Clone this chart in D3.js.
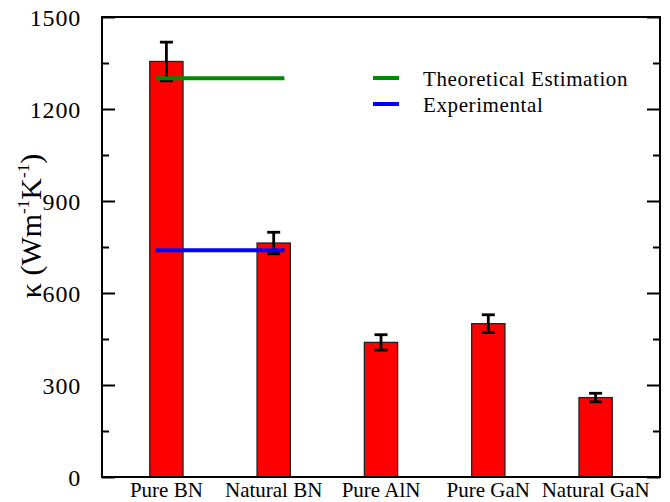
<!DOCTYPE html>
<html><head><meta charset="utf-8">
<script src="https://cdn.jsdelivr.net/npm/d3@7"></script>
</head><body style="margin:0;background:#fff"><svg id="c" width="670" height="502" style="display:block;background:#fff;font-family:'Times New Roman'"></svg>
<script>
const categories = ["Pure BN","Natural BN","Pure AlN","Pure GaN","Natural GaN"];
const values = [1355, 763, 439, 500, 259];
const errors = [63, 35, 25, 29, 14];
const refNames = ["Theoretical Estimation","Experimental"];
const refValues = [1300, 739];
const refColors = ["#008a00","#0000ff"];
const refSpan = [0.9, 2.1];
const yTicks = [0,300,600,900,1200,1500];
const yMinor = [150,450,750,1050,1350];

const FONT = '"Times New Roman"';
const svg = d3.select("#c");
const L=102, R=660, T=17, B=477;
const x = d3.scaleLinear().domain([0.4,5.6]).range([L,R]);
const y = d3.scaleLinear().domain([0,1500]).range([B,T]);
const bw = 0.31;

svg.selectAll("rect.bar").data(values).enter().append("rect")
  .attr("x",(d,i)=>x(i+1-bw/2)).attr("width",x(bw)-x(0))
  .attr("y",d=>y(d)).attr("height",d=>y(0)-y(d))
  .attr("fill","#ff0000").attr("stroke","#222").attr("stroke-width",1.3);

const eb = svg.append("g").attr("stroke","#000").attr("stroke-width",2.8);
values.forEach((v,i)=>{
  const cx=x(i+1), e=errors[i];
  eb.append("line").attr("x1",cx).attr("x2",cx).attr("y1",y(v+e)).attr("y2",y(v-e));
  eb.append("line").attr("x1",cx-6.5).attr("x2",cx+6.5).attr("y1",y(v+e)).attr("y2",y(v+e));
  eb.append("line").attr("x1",cx-6.5).attr("x2",cx+6.5).attr("y1",y(v-e)).attr("y2",y(v-e));
});

refValues.forEach((v,i)=>{
  svg.append("line").attr("x1",x(refSpan[0])).attr("x2",x(refSpan[1]))
    .attr("y1",y(v)).attr("y2",y(v)).attr("stroke",refColors[i]).attr("stroke-width",4);
});

const left = d3.axisLeft(y).tickValues(yTicks).tickSizeInner(-13).tickSizeOuter(0).tickPadding(21).tickFormat(d3.format("d"));
const gl = svg.append("g").attr("transform",`translate(${L},0)`).call(left);
gl.attr("font-family",null).attr("font-size",null);
gl.selectAll("text").style("font-family",FONT).style("font-size","24px").style("letter-spacing","0.8px").attr("dy","0.36em");
const leftMinor = d3.axisLeft(y).tickValues(yMinor).tickSizeInner(-7).tickSizeOuter(0).tickFormat("");
svg.append("g").attr("transform",`translate(${L},0)`).call(leftMinor);
const right = d3.axisRight(y).tickValues(yTicks).tickSizeInner(-13).tickSizeOuter(0).tickFormat("");
svg.append("g").attr("transform",`translate(${R},0)`).call(right);
const rightMinor = d3.axisRight(y).tickValues(yMinor).tickSizeInner(-7).tickSizeOuter(0).tickFormat("");
svg.append("g").attr("transform",`translate(${R},0)`).call(rightMinor);
svg.selectAll(".domain").remove();
svg.selectAll(".tick line").attr("stroke","#000").attr("stroke-width",2);

svg.append("rect").attr("x",L).attr("y",T).attr("width",R-L).attr("height",B-T)
  .attr("fill","none").attr("stroke","#000").attr("stroke-width",2);

svg.selectAll("text.cat").data(categories).enter().append("text")
  .attr("x",(d,i)=>x(i+1)).attr("y",497).attr("text-anchor","middle")
  .style("font-family",FONT).style("font-size","21px").text(d=>d);

const yl = svg.append("text").attr("transform","translate(41,226) rotate(-90)")
  .attr("text-anchor","middle").style("font-family",FONT).style("font-size","30px");
yl.append("tspan").text("κ (Wm");
yl.append("tspan").attr("dy",-12).style("font-size","17px").text("-1");
yl.append("tspan").attr("dy",12).text("K");
yl.append("tspan").attr("dy",-12).style("font-size","17px").text("-1");
yl.append("tspan").attr("dy",12).text(")");

refNames.forEach((n,i)=>{
  const ly = 78 + i*26;
  svg.append("line").attr("x1",373).attr("x2",399).attr("y1",ly).attr("y2",ly)
    .attr("stroke",refColors[i]).attr("stroke-width",4);
  svg.append("text").attr("x",423).attr("y",ly+8).style("font-family",FONT)
    .style("font-size","21px").style("letter-spacing","0.6px").text(n);
});
</script></body></html>
